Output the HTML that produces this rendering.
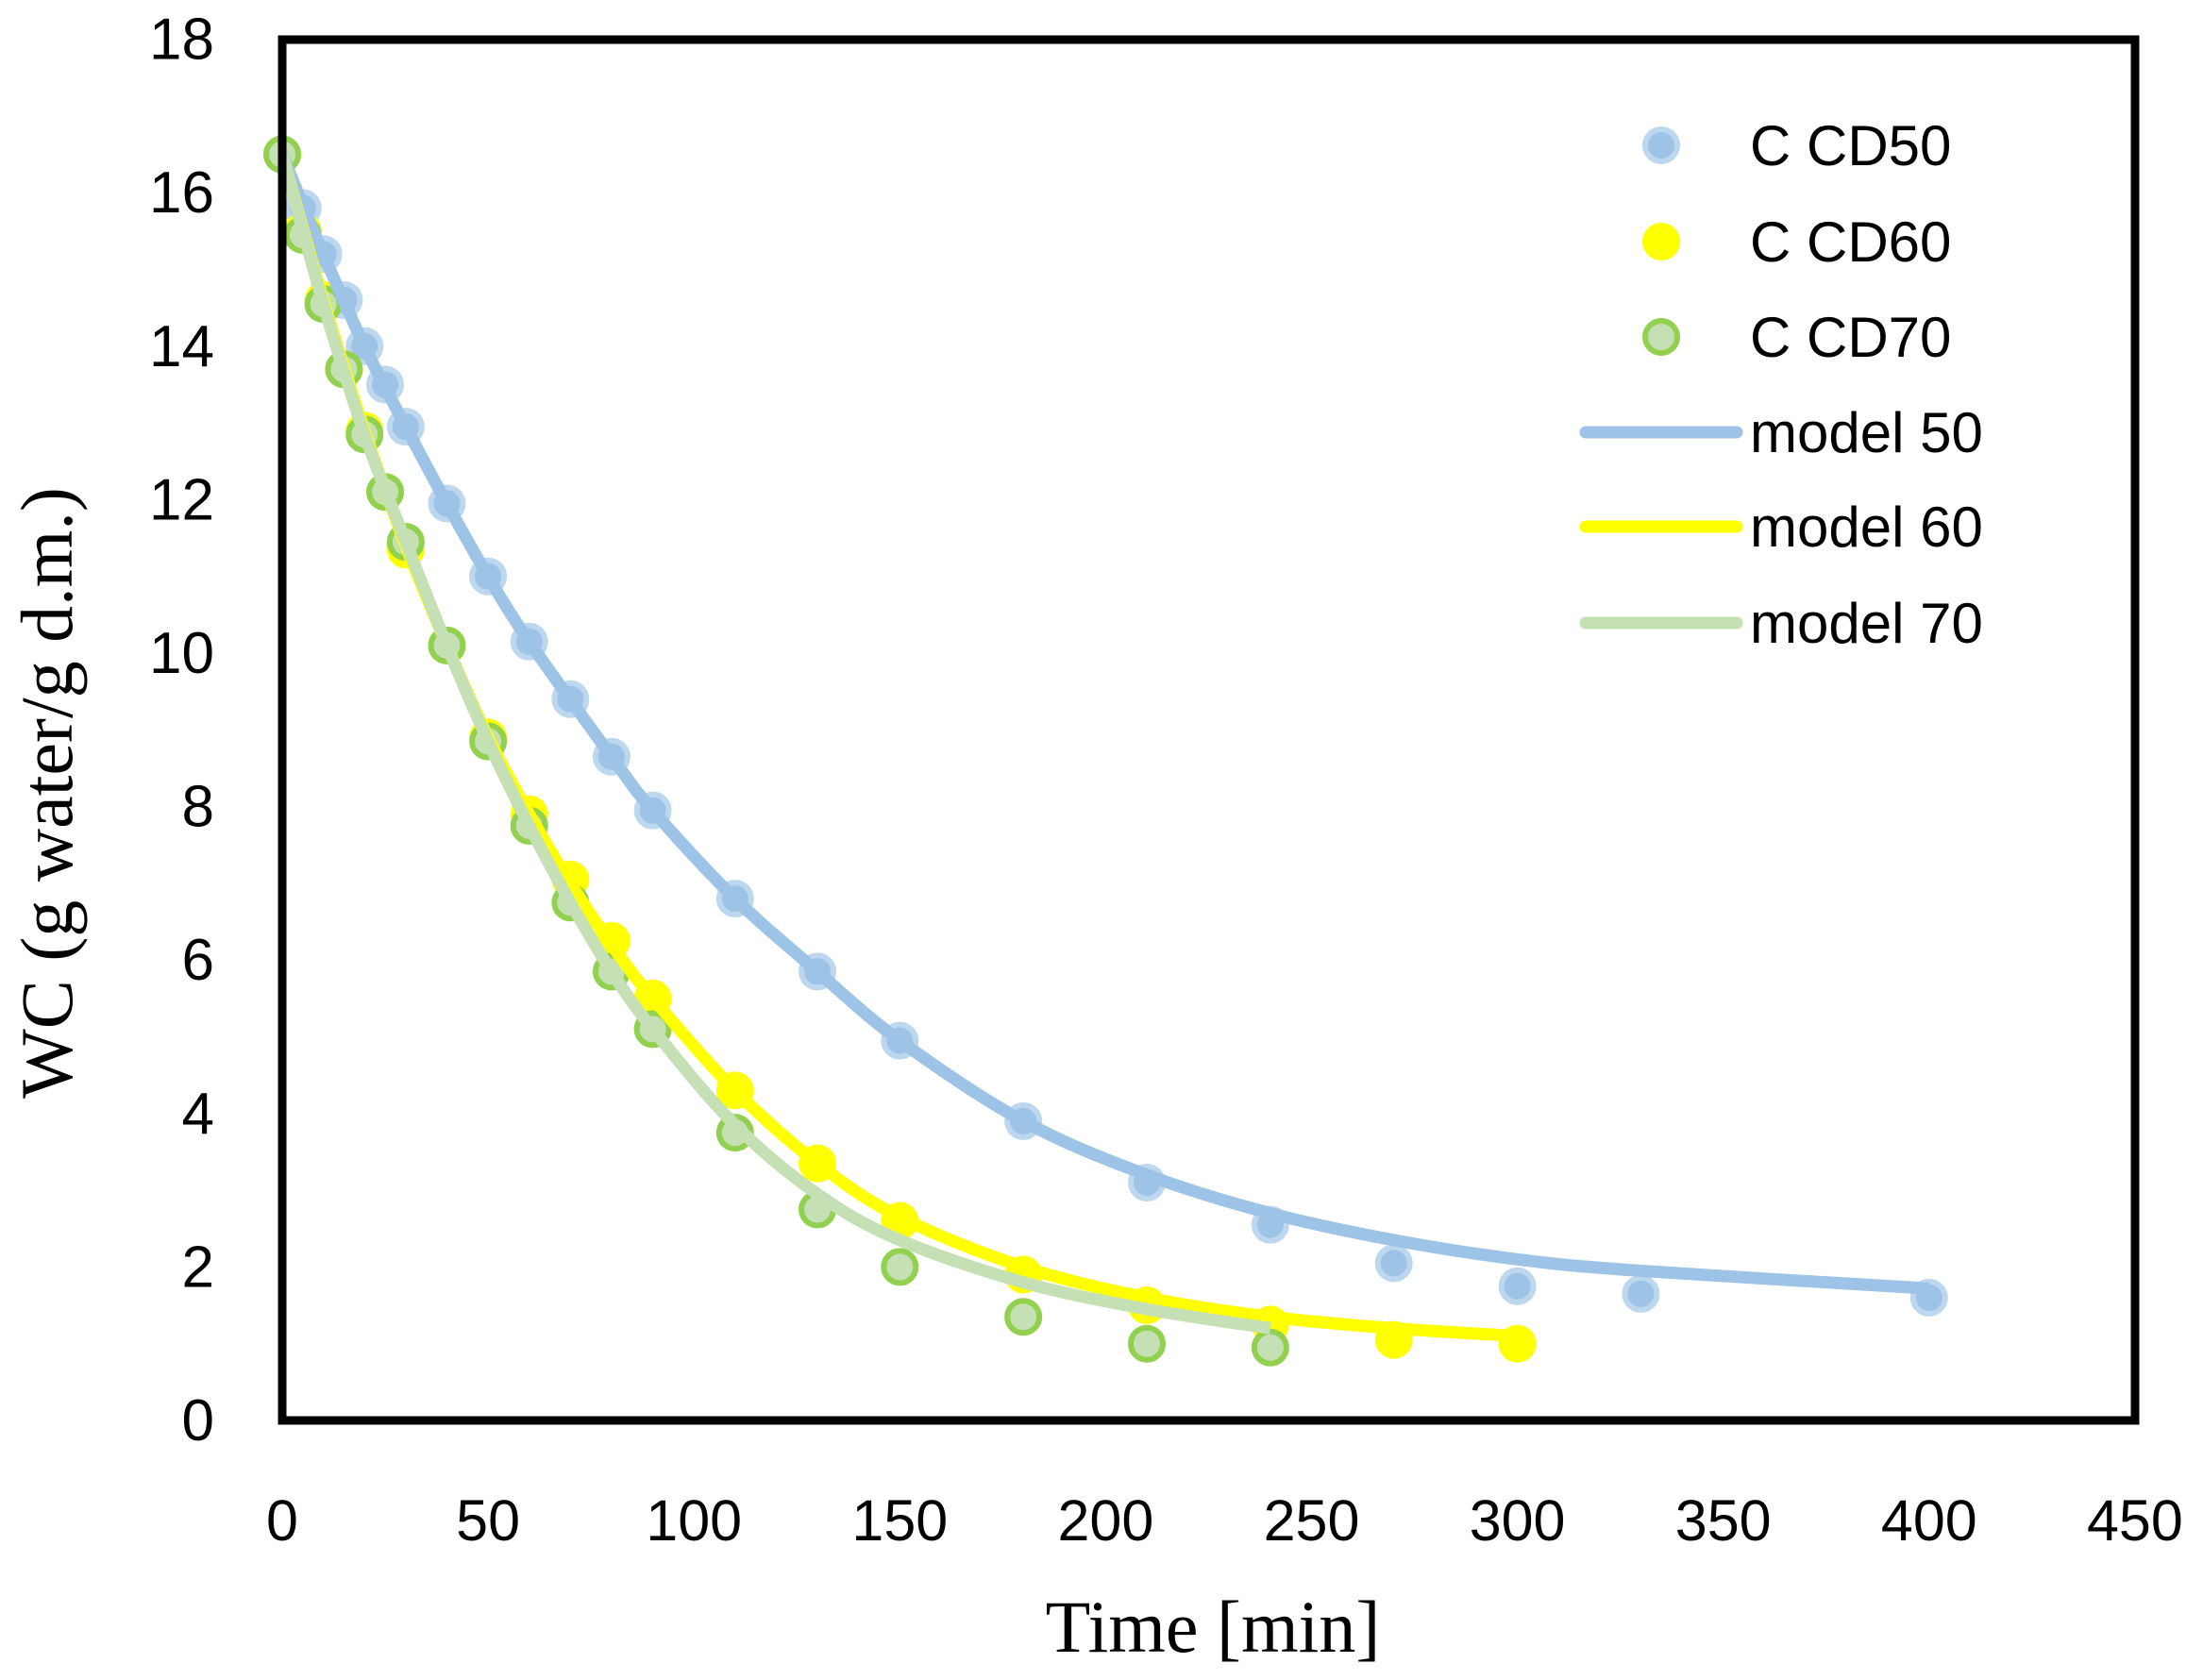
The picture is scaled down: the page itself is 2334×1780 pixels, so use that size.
<!DOCTYPE html>
<html><head><meta charset="utf-8"><style>
html,body{margin:0;padding:0;background:#fff;}
svg{display:block;}
</style></head><body>
<svg id="s" width="2334" height="1780" xmlns="http://www.w3.org/2000/svg" font-family="Liberation Sans, sans-serif">
<rect width="2334" height="1780" fill="#fff"/>
<g id="plot"></g>
<rect x="299" y="42" width="1963" height="1463" fill="none" stroke="#000" stroke-width="9"/>
<g font-size="62" text-anchor="end" id="yt"></g>
<g font-size="61" text-anchor="middle" id="xt"></g>
<text x="1285" y="1750" font-family="Liberation Serif, serif" font-size="78" text-anchor="middle">Time [min]</text>
<text transform="translate(76,840) rotate(-90)" font-family="Liberation Serif, serif" font-size="78" text-anchor="middle">WC (g water/g d.m.)</text>
<g font-size="60">
<circle cx="1760" cy="154" r="17" fill="#9dc3e6" stroke="#bdd7ee" stroke-width="6"/>
<text x="1854" y="175">C CD50</text>
<circle cx="1760" cy="256" r="20" fill="#ffff00"/>
<text x="1854" y="277">C CD60</text>
<circle cx="1760" cy="357" r="17" fill="#c5e0b4" stroke="#92d050" stroke-width="6"/>
<text x="1854" y="378">C CD70</text>
<line x1="1680" y1="458" x2="1840" y2="458" stroke="#9dc3e6" stroke-width="13" stroke-linecap="round"/>
<text x="1854" y="479">model 50</text>
<line x1="1680" y1="558" x2="1840" y2="558" stroke="#ffff00" stroke-width="13" stroke-linecap="round"/>
<text x="1854" y="579">model 60</text>
<line x1="1680" y1="660" x2="1840" y2="660" stroke="#c5e0b4" stroke-width="13" stroke-linecap="round"/>
<text x="1854" y="681">model 70</text>
</g>
</svg>
<script>
var NS="http://www.w3.org/2000/svg";
function X(t){return 299+t*4.362;}
function Y(v){return 1505-v*81.3;}
function el(p,tag,a,txt){var e=document.createElementNS(NS,tag);for(var k in a)e.setAttribute(k,a[k]);if(txt!=null)e.textContent=txt;p.appendChild(e);return e;}
var yt=document.getElementById('yt'),xt=document.getElementById('xt'),P=document.getElementById('plot');
for(var v=0;v<=18;v+=2)el(yt,'text',{x:227,y:Y(v)+21},String(v));
for(var t=0;t<=450;t+=50)el(xt,'text',{x:X(t),y:1632},String(t));
var d50=[[0,16.5],[5,15.8],[10,15.2],[15,14.6],[20,14.0],[25,13.5],[30,12.95],[40,11.95],[50,11.0],[60,10.15],[70,9.4],[80,8.65],[90,7.95],[110,6.8],[130,5.85],[150,4.95],[180,3.9],[210,3.1],[240,2.55],[270,2.05],[300,1.75],[330,1.65],[400,1.6]];
var d60=[[0,16.5],[5,15.5],[10,14.6],[15,13.7],[20,12.9],[25,12.1],[30,11.35],[40,10.1],[50,8.9],[60,7.9],[70,7.05],[80,6.25],[90,5.5],[110,4.3],[130,3.35],[150,2.6],[180,1.9],[210,1.5],[240,1.25],[270,1.05],[300,1.0]];
var d70=[[0,16.5],[5,15.45],[10,14.55],[15,13.7],[20,12.85],[25,12.1],[30,11.45],[40,10.1],[50,8.85],[60,7.75],[70,6.75],[80,5.85],[90,5.1],[110,3.75],[130,2.75],[150,2.0],[180,1.35],[210,1.0],[240,0.95]];
d50.forEach(function(p){el(P,'circle',{cx:X(p[0]),cy:Y(p[1]),r:17,fill:'#9dc3e6',stroke:'#bdd7ee','stroke-width':6});});
d60.forEach(function(p){el(P,'circle',{cx:X(p[0]),cy:Y(p[1]),r:20,fill:'#ffff00'});});
d70.forEach(function(p){el(P,'circle',{cx:X(p[0]),cy:Y(p[1]),r:17,fill:'#c5e0b4',stroke:'#92d050','stroke-width':6});});
function spline(k,col){
  var pts=k.map(function(p){return [X(p[0]),Y(p[1])];});
  var s='M'+pts[0][0].toFixed(1)+','+pts[0][1].toFixed(1);
  for(var i=0;i<pts.length-1;i++){
    var p0=pts[Math.max(0,i-1)],p1=pts[i],p2=pts[i+1],p3=pts[Math.min(pts.length-1,i+2)];
    var c1=[p1[0]+(p2[0]-p0[0])/6,p1[1]+(p2[1]-p0[1])/6];
    var c2=[p2[0]-(p3[0]-p1[0])/6,p2[1]-(p3[1]-p1[1])/6];
    s+='C'+c1[0].toFixed(1)+','+c1[1].toFixed(1)+' '+c2[0].toFixed(1)+','+c2[1].toFixed(1)+' '+p2[0].toFixed(1)+','+p2[1].toFixed(1);
  }
  el(P,'path',{d:s,fill:'none',stroke:col,'stroke-width':13});
}
spline([[0,16.5],[10,15.2],[20,14.0],[30,12.95],[40,11.95],[50,11.0],[60,10.15],[80,8.65],[90,7.95],[110,6.8],[130,5.85],[150,4.95],[180,3.9],[210,3.2],[240,2.7],[270,2.35],[300,2.1],[330,1.95],[400,1.72]],'#9dc3e6');
spline([[0,16.5],[10,14.6],[20,12.9],[30,11.4],[40,10.1],[50,8.9],[60,7.9],[70,7.0],[80,6.2],[90,5.5],[110,4.3],[130,3.35],[150,2.65],[180,2.0],[210,1.6],[240,1.35],[270,1.2],[300,1.1]],'#ffff00');
spline([[0,16.5],[10,14.55],[20,12.85],[30,11.45],[40,10.1],[50,8.85],[60,7.75],[70,6.75],[80,5.85],[90,5.1],[110,3.85],[130,2.95],[150,2.35],[180,1.8],[210,1.45],[240,1.2]],'#c5e0b4');
</script>
</body></html>
